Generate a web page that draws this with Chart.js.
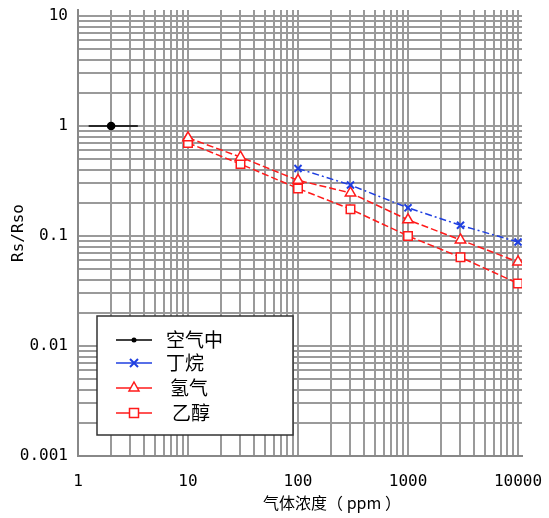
<!DOCTYPE html>
<html>
<head>
<meta charset="utf-8">
<script src="https://cdn.jsdelivr.net/npm/chart.js@4/dist/chart.umd.min.js"></script>
<style>
  html, body { margin: 0; padding: 0; background: #fff; }
  #wrap { width: 549px; height: 518px; position: relative; }
</style>
</head>
<body>
<div id="wrap"><canvas id="chart"></canvas></div>
<script>
// data (log-log)
const concentrations = [10, 30, 100, 300, 1000, 3000, 10000];
const butaneX = [100, 300, 1000, 3000, 10000];
const butane = [0.41, 0.29, 0.18, 0.125, 0.088];
const hydrogen = [0.78, 0.52, 0.32, 0.246, 0.14, 0.092, 0.058];
const ethanol = [0.7, 0.45, 0.27, 0.175, 0.1, 0.064, 0.037];
const airX = [1.25, 2, 3.5];
const air = [1, 1, 1];
const seriesNames = ["空气中", "丁烷", "氢气", "乙醇"];
const xTickLabels = ["1", "10", "100", "1000", "10000"];
const yTickLabels = ["0.001", "0.01", "0.1", "1", "10"];
const xTitle = "气体浓度（ ppm ）";
const yTitle = "Rs/Rso";

const pts = (xs, ys) => xs.map((x, i) => ({ x: x, y: ys[i] }));

// 1..9 x 10^n ticks between min and max
function logTicks(min, max) {
  const out = [];
  for (let e = Math.floor(Math.log10(min)); e <= Math.ceil(Math.log10(max)); e++) {
    for (let m = 1; m <= 9; m++) {
      const v = +(m * Math.pow(10, e)).toPrecision(6);
      if (v >= min - 1e-12 && v <= max) out.push({ value: v });
    }
  }
  return out;
}

function majorLabel(v, labels) {
  const e = Math.log10(v);
  if (Math.abs(e - Math.round(e)) > 1e-6) return "";
  const idx = labels.findIndex(l => Math.abs(parseFloat(l) - v) < v * 1e-6);
  return idx >= 0 ? labels[idx] : "";
}

// legend box inside the plot + x title offset like the original
const boxLegend = {
  id: "boxLegend",
  afterDatasetsDraw(chart) {
    const ctx = chart.ctx;
    const x0 = 97, y0 = 316, w = 196, h = 119;
    ctx.save();
    ctx.fillStyle = "#fff";
    ctx.fillRect(x0, y0, w, h);
    ctx.strokeStyle = "#333";
    ctx.lineWidth = 1.5;
    ctx.strokeRect(x0, y0, w, h);
    const rows = [340, 363, 388, 413];
    const textX = [166, 166, 170, 172];
    chart.data.datasets.forEach((ds, i) => {
      const y = rows[i];
      ctx.strokeStyle = ds.borderColor;
      ctx.lineWidth = 1.5;
      ctx.setLineDash([]);
      ctx.beginPath();
      ctx.moveTo(116, y);
      ctx.lineTo(152, y);
      ctx.stroke();
      const st = ds.pointStyle;
      const mx = 134;
      ctx.fillStyle = ds.pointBackgroundColor;
      ctx.strokeStyle = ds.pointBorderColor;
      ctx.beginPath();
      if (st === "circle") {
        ctx.arc(mx, y, 2.5, 0, Math.PI * 2);
        ctx.fill();
      } else if (st === "crossRot") {
        ctx.lineWidth = 2;
        ctx.moveTo(mx - 4, y - 4); ctx.lineTo(mx + 4, y + 4);
        ctx.moveTo(mx + 4, y - 4); ctx.lineTo(mx - 4, y + 4);
        ctx.stroke();
      } else if (st === "triangle") {
        ctx.moveTo(mx, y - 6); ctx.lineTo(mx + 5, y + 3); ctx.lineTo(mx - 5, y + 3);
        ctx.closePath(); ctx.fill(); ctx.stroke();
      } else {
        ctx.rect(mx - 4.5, y - 4.5, 9, 9);
        ctx.fill(); ctx.stroke();
      }
      ctx.fillStyle = "#000";
      ctx.font = '19px "Noto Sans CJK SC"';
      ctx.textBaseline = "middle";
      ctx.textAlign = "left";
      ctx.fillText(ds.label, textX[i], y);
    });

    ctx.font = '16px "Noto Sans CJK SC"';
    ctx.textAlign = "center";
    ctx.textBaseline = "middle";
    ctx.fillStyle = "#000";
    ctx.fillText(xTitle, 332, 503);
    ctx.restore();
  }
};

const gridColor = "#9a9a9a";
const tickFont = { family: '"DejaVu Sans Mono", monospace', size: 16 };

new Chart(document.getElementById("chart"), {
  type: "line",
  data: {
    datasets: [
      {
        label: seriesNames[0],
        data: pts(airX, air),
        borderColor: "#000",
        borderWidth: 1.5,
        pointStyle: "circle",
        pointRadius: [0, 3.5, 0],
        pointBackgroundColor: "#000",
        pointBorderColor: "#000"
      },
      {
        label: seriesNames[1],
        data: pts(butaneX, butane),
        borderColor: "#1f3fe0",
        borderWidth: 1.5,
        borderDash: [7, 3, 2, 3],
        pointStyle: "crossRot",
        pointRadius: 5,
        pointBorderWidth: 2,
        pointBackgroundColor: "#1f3fe0",
        pointBorderColor: "#1f3fe0"
      },
      {
        label: seriesNames[2],
        data: pts(concentrations, hydrogen),
        borderColor: "#ff1a1a",
        borderWidth: 1.5,
        borderDash: [7, 3],
        pointStyle: "triangle",
        pointRadius: 6,
        pointBorderWidth: 1.5,
        pointBackgroundColor: "#fff",
        pointBorderColor: "#ff1a1a"
      },
      {
        label: seriesNames[3],
        data: pts(concentrations, ethanol),
        borderColor: "#ff1a1a",
        borderWidth: 1.5,
        borderDash: [7, 3],
        pointStyle: "rect",
        pointRadius: 6,
        pointBorderWidth: 1.5,
        pointBackgroundColor: "#fff",
        pointBorderColor: "#ff1a1a"
      }
    ]
  },
  options: {
    responsive: true,
    maintainAspectRatio: false,
    animation: false,
    layout: { padding: { left: 0, right: 27, top: 10, bottom: 0 } },
    plugins: {
      legend: { display: false },
      tooltip: { enabled: false }
    },
    scales: {
      x: {
        type: "logarithmic",
        min: 1,
        max: 10870,
        afterBuildTicks: s => { s.ticks = logTicks(1, 10870); },
        afterFit: s => { s.height = 62; s.paddingLeft = 0; s.paddingRight = 0; },
        grid: { color: gridColor, lineWidth: 2, drawTicks: false },
        border: { color: "#888", width: 2 },
        ticks: {
          autoSkip: false,
          maxRotation: 0,
          padding: 16,
          color: "#000",
          font: tickFont,
          callback: v => majorLabel(v, xTickLabels)
        },
        title: { display: false }
      },
      y: {
        type: "logarithmic",
        min: 0.001,
        max: 11.3,
        afterBuildTicks: s => { s.ticks = logTicks(0.001, 11.3); },
        afterFit: s => { s.width = 78; s.paddingTop = 0; s.paddingBottom = 0; },
        grid: { color: gridColor, lineWidth: 2, drawTicks: false },
        border: { color: "#888", width: 2 },
        ticks: {
          autoSkip: false,
          padding: 10,
          color: "#000",
          font: tickFont,
          callback: v => majorLabel(v, yTickLabels)
        },
        title: {
          display: true,
          text: yTitle,
          color: "#000",
          font: { family: '"DejaVu Sans Mono", monospace', size: 16 },
          padding: { top: 9, bottom: 4 }
        }
      }
    }
  },
  plugins: [boxLegend]
});
</script>
</body>
</html>
